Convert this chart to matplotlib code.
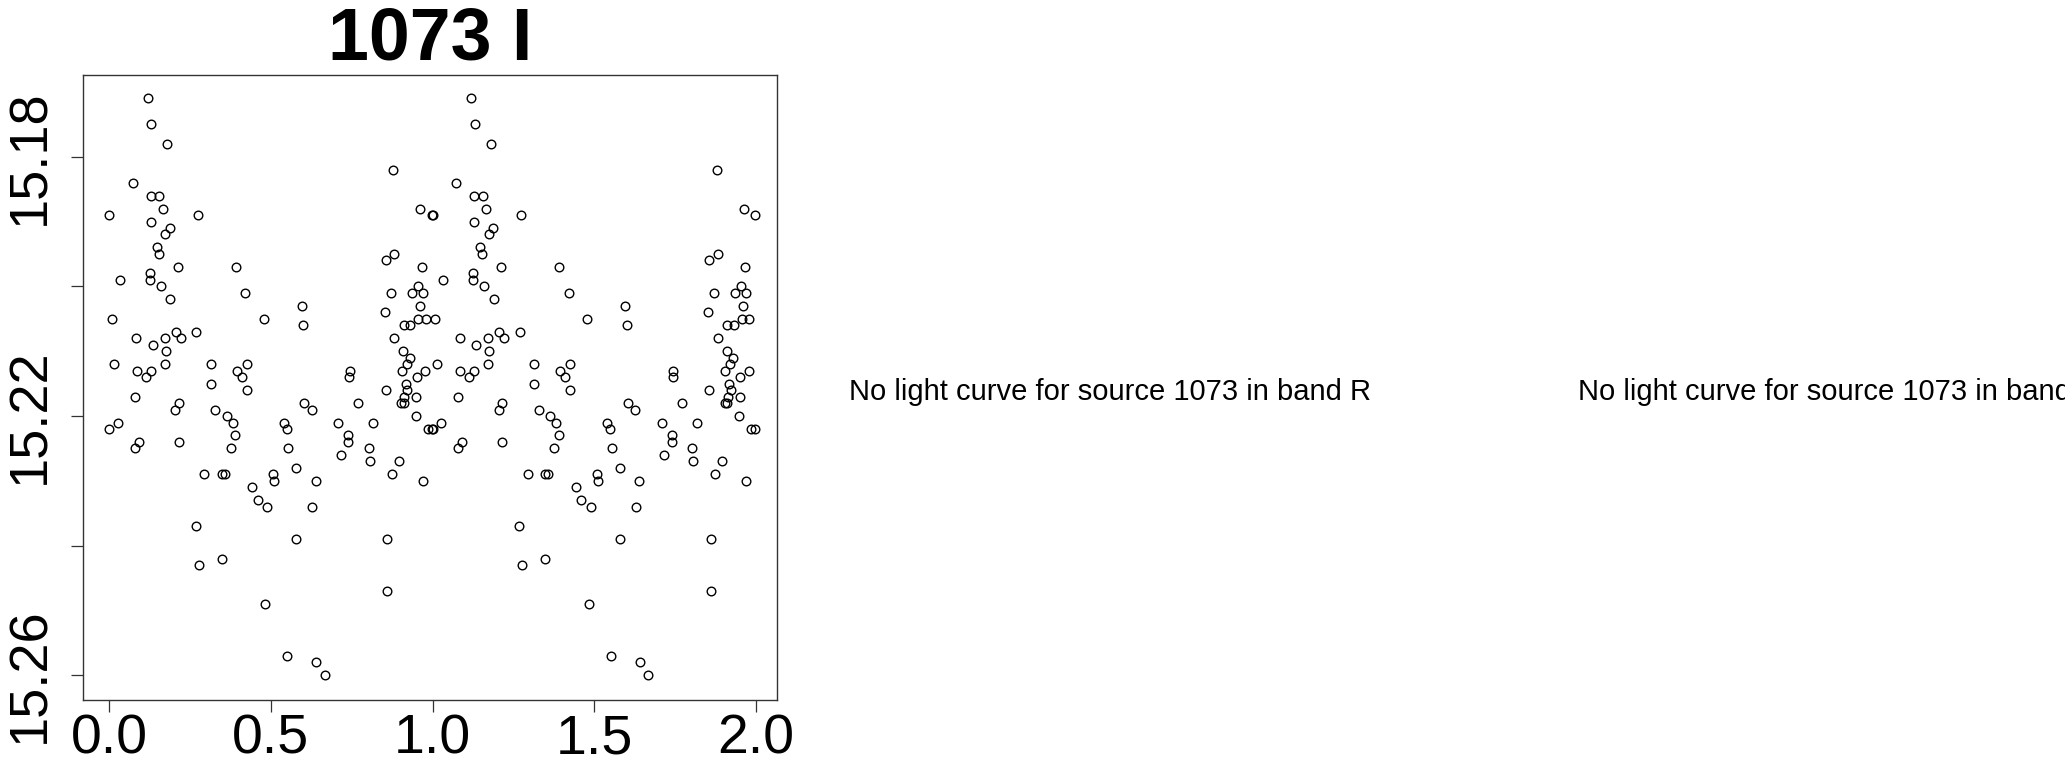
import numpy as np
import matplotlib
matplotlib.use("Agg")
import matplotlib.pyplot as plt

# -----------------------------------------------------------------------------
# DATA: phased light curve of source 1073, band I (phase 0-1)
# -----------------------------------------------------------------------------

SOURCE = "1073"
BAND = "I"
MISSING_BANDS = ["R", "V"]

phase = [
    0.120, 0.130, 0.179, 0.073, 0.129, 0.155, 0.166, 0.000, 0.273, 0.129,
    0.187, 0.173, 0.147, 0.153, 0.212, 0.392, 0.125, 0.032, 0.125, 0.160,
    0.421, 0.189, 0.008, 0.478, 0.206, 0.269, 0.084, 0.172, 0.221, 0.134,
    0.174, 0.015, 0.171, 0.315, 0.426, 0.085, 0.129, 0.394, 0.114, 0.410,
    0.315, 0.425,
    0.079, 0.216, 0.204, 0.328, 0.363, 0.383, 0.027, 0.000, 0.390, 0.091,
    0.215, 0.079, 0.376, 0.294, 0.348, 0.357, 0.507, 0.510, 0.442, 0.460,
    0.489, 0.268, 0.348, 0.277, 0.483, 0.551, 0.640, 0.666,
    0.878, 0.962, 0.997, 0.881, 0.855, 0.967, 0.954, 0.870, 0.936, 0.970,
    0.595, 0.961, 0.853, 0.956, 0.979, 0.600, 0.911, 0.931, 0.882, 0.909,
    0.930, 0.921, 0.744, 0.742, 0.904, 0.977, 0.951, 0.918,
    0.855, 0.922, 0.912, 0.950, 0.903, 0.911, 0.603, 0.626, 0.770, 0.949,
    0.539, 0.708, 0.817, 0.549, 0.985, 0.997, 0.739, 0.739, 0.554, 0.803,
    0.716, 0.806, 0.896, 0.578, 0.874, 0.639, 0.970, 0.628, 0.578, 0.860,
    0.860,
]

mag = [
    15.171, 15.175, 15.178, 15.184, 15.186, 15.186, 15.188, 15.189, 15.189, 15.190,
    15.191, 15.192, 15.194, 15.195, 15.197, 15.197, 15.198, 15.199, 15.199, 15.200,
    15.201, 15.202, 15.205, 15.205, 15.207, 15.207, 15.208, 15.208, 15.208, 15.209,
    15.210, 15.212, 15.212, 15.212, 15.212, 15.213, 15.213, 15.213, 15.214, 15.214,
    15.215, 15.216,
    15.217, 15.218, 15.219, 15.219, 15.220, 15.221, 15.221, 15.222, 15.223, 15.224,
    15.224, 15.225, 15.225, 15.229, 15.229, 15.229, 15.229, 15.230, 15.231, 15.233,
    15.234, 15.237, 15.242, 15.243, 15.249, 15.257, 15.258, 15.260,
    15.182, 15.188, 15.189, 15.195, 15.196, 15.197, 15.200, 15.201, 15.201, 15.201,
    15.203, 15.203, 15.204, 15.205, 15.205, 15.206, 15.206, 15.206, 15.208, 15.210,
    15.211, 15.212, 15.213, 15.214, 15.213, 15.213, 15.214, 15.215,
    15.216, 15.216, 15.217, 15.217, 15.218, 15.218, 15.218, 15.219, 15.218, 15.220,
    15.221, 15.221, 15.221, 15.222, 15.222, 15.222, 15.223, 15.224, 15.225, 15.225,
    15.226, 15.227, 15.227, 15.228, 15.229, 15.230, 15.230, 15.234, 15.239, 15.239,
    15.247,
]

x_ticks = [0.0, 0.5, 1.0, 1.5, 2.0]
x_ticklabels = ["0.0", "0.5", "1.0", "1.5", "2.0"]
y_ticks = [15.18, 15.20, 15.22, 15.24, 15.26]
y_ticklabels = ["15.18", "", "15.22", "", "15.26"]

# -----------------------------------------------------------------------------
# PLOT
# -----------------------------------------------------------------------------

plt.rcParams["font.family"] = ["Liberation Sans", "DejaVu Sans"]

W, H = 2065, 758
fig = plt.figure(figsize=(W / 100, H / 100), dpi=100)

# plot box in pixels: left 83, right 777, top 75, bottom 700
ax = fig.add_axes([83 / W, 1 - 700 / H, (777 - 83) / W, (700 - 75) / H])

ph = np.array(phase)
mg = np.array(mag)
# two cycles: phase and phase + 1
ax.plot(np.concatenate([ph, ph + 1]), np.concatenate([mg, mg]),
        ls="none", marker="o", ms=6.2, mfc="none", mec="black", mew=1.0)

ax.set_xlim(-0.0813, 2.065)
ax.set_ylim(15.2638, 15.1674)

ax.set_xticks(x_ticks)
ax.set_xticklabels(x_ticklabels, fontsize=40)
ax.set_yticks(y_ticks)
ax.set_yticklabels(y_ticklabels, fontsize=39, rotation=90, va="center")

ax.tick_params(axis="both", direction="out", length=8.7, width=0.9, color="#333333")
ax.tick_params(axis="x", pad=1)
ax.tick_params(axis="y", pad=11)

for sp in ax.spines.values():
    sp.set_linewidth(1.0)
    sp.set_color("#333333")

fig.text(430 / W, 1 - 59 / H, f"{SOURCE} {BAND}", fontsize=53,
         fontweight="bold", ha="center", va="baseline")

# other bands have no data
fig.text(1109.6 / W, 1 - 400 / H,
         f"No light curve for source {SOURCE} in band {MISSING_BANDS[0]}",
         fontsize=21, ha="center", va="baseline")
fig.text(1838 / W, 1 - 400 / H,
         f"No light curve for source {SOURCE} in band {MISSING_BANDS[1]}",
         fontsize=21, ha="center", va="baseline")

fig.savefig("out.png", dpi=100)
